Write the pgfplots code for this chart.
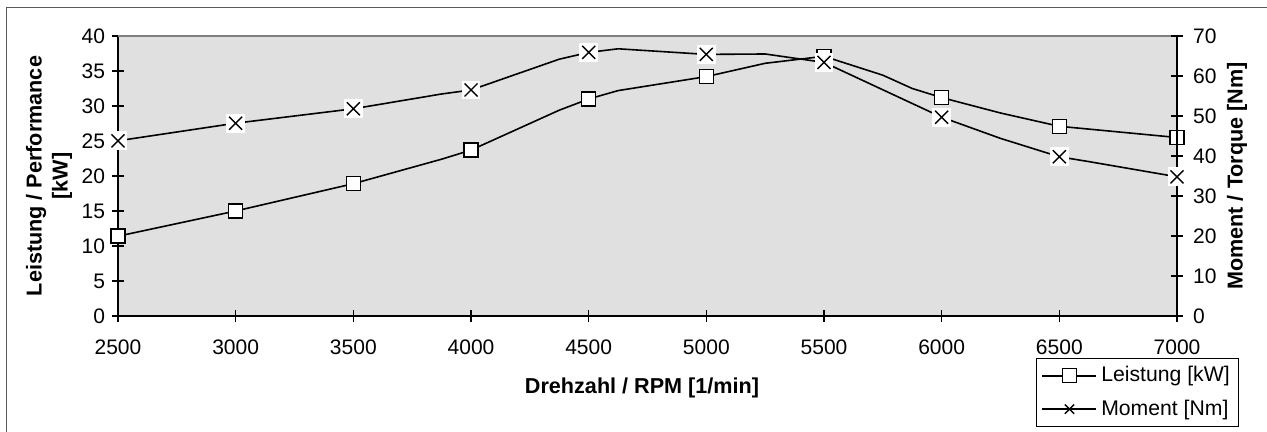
\documentclass[border=0pt]{standalone}
\usepackage{fontspec}
\setmainfont{Liberation Sans}
\usepackage{pgfplots}
\pgfplotsset{compat=1.18}

\definecolor{plotbg}{RGB}{224,224,224}
\definecolor{framegray}{RGB}{90,90,90}

% X mark on a white box, as Excel draws it
\pgfdeclareplotmark{xbox}{%
  \pgfpathrectangle{\pgfpoint{-1.45\pgfplotmarksize}{-1.45\pgfplotmarksize}}{\pgfpoint{2.9\pgfplotmarksize}{2.9\pgfplotmarksize}}%
  \pgfsetfillcolor{white}\pgfusepathqfill
  \pgfpathmoveto{\pgfpoint{-\pgfplotmarksize}{-\pgfplotmarksize}}%
  \pgfpathlineto{\pgfpoint{\pgfplotmarksize}{\pgfplotmarksize}}%
  \pgfpathmoveto{\pgfpoint{-\pgfplotmarksize}{\pgfplotmarksize}}%
  \pgfpathlineto{\pgfpoint{\pgfplotmarksize}{-\pgfplotmarksize}}%
  \pgfusepathqstroke}

\pgfplotsset{
  chartbase/.style={
    scale only axis, width=529.5pt, height=140pt,
    at={(59pt,58pt)}, anchor=south west,
    xmin=2500, xmax=7000,
    xtick={2500,3000,...,7000},
    tick align=center, major tick length=6pt,
    tick style={black, line width=0.6pt},
    axis line style={black, line width=0.65pt},
    /pgf/number format/assume math mode=true,
    /pgf/number format/set thousands separator={},
    ticklabel style={font=\fontsize{10.5}{12}\selectfont},
    label style={font=\fontsize{10.8}{13}\selectfont\bfseries},
  },
}

\begin{document}
\begin{tikzpicture}
\useasboundingbox (0pt,0pt) rectangle (633.5pt,216pt);
\draw[framegray, line width=0.6pt] (3.25pt,212.25pt) rectangle (660pt,-20pt);

\begin{axis}[chartbase,
  axis background/.style={fill=plotbg},
  axis x line*=bottom, axis y line*=left,
  ymin=0, ymax=40, ytick={0,5,...,40},
  xlabel={Drehzahl / RPM [1/min]},
  xlabel style={at={(rel axis cs:0.4948,-0.257)}, anchor=center},
  ylabel={Leistung / Performance\\{}[kW]},
  ylabel style={at={(rel axis cs:-0.0652,0.5)}, anchor=center, align=center},
  xticklabel style={yshift=-5.5pt},
  legend style={at={(rel axis cs:0.8669,-0.15)}, anchor=north west,
    draw=black, line width=0.6pt, font=\fontsize{10.6}{12.5}\selectfont,
    inner xsep=2.5pt, inner ysep=2pt, row sep=3.5pt},
  legend cell align=left,
  legend image code/.code={%
    \draw[mark repeat=2, mark phase=2, #1] plot coordinates {(0pt,0pt) (13.5pt,0pt) (27pt,0pt)};},
]
\draw[gray, line width=0.6pt] (rel axis cs:0,1) -- (rel axis cs:1,1);
\addplot[forget plot, black, line width=0.8pt, mark=square*, mark size=3.5pt,
  mark options={fill=white, line width=0.7pt},
  mark indices={1,2,3,5,7,9,11,14,16,17}] coordinates {
  (2500,11.4) (3000,15.0) (3500,18.9) (3875,22.4) (4000,23.7)
  (4375,29.4) (4500,31.0) (4625,32.2) (5000,34.2) (5250,36.1)
  (5500,37.1) (5750,34.4) (5875,32.5) (6000,31.2) (6250,29.0)
  (6500,27.1) (7000,25.5)};
\addlegendimage{black, line width=0.8pt, mark=square*, mark size=3.5pt, mark options={fill=white, line width=0.7pt}}
\addlegendentry{Leistung [kW]}
\addlegendimage{black, line width=0.8pt, mark=x, mark size=3.25pt, mark options={line width=0.7pt}}
\addlegendentry{Moment [Nm]}
\end{axis}

\begin{axis}[chartbase,
  axis x line=none, axis y line*=right,
  ymin=0, ymax=70, ytick={0,10,...,70},
  yticklabel style={xshift=1.5pt},
  ylabel={Moment / Torque [Nm]},
  ylabel style={at={(rel axis cs:1.0567,0.5)}, anchor=center},
]
\addplot[black, line width=0.8pt, mark=xbox, mark size=3.25pt,
  mark options={line width=0.7pt},
  mark indices={1,2,3,5,7,9,11,12,14,16}] coordinates {
  (2500,43.8) (3000,48.2) (3500,51.8) (3875,55.5) (4000,56.5)
  (4375,64.2) (4500,65.9) (4625,66.8) (5000,65.4) (5250,65.5)
  (5500,63.4) (6000,49.7) (6250,44.4) (6500,39.8) (6625,38.6)
  (7000,34.8)};
\end{axis}
\end{tikzpicture}
\end{document}
